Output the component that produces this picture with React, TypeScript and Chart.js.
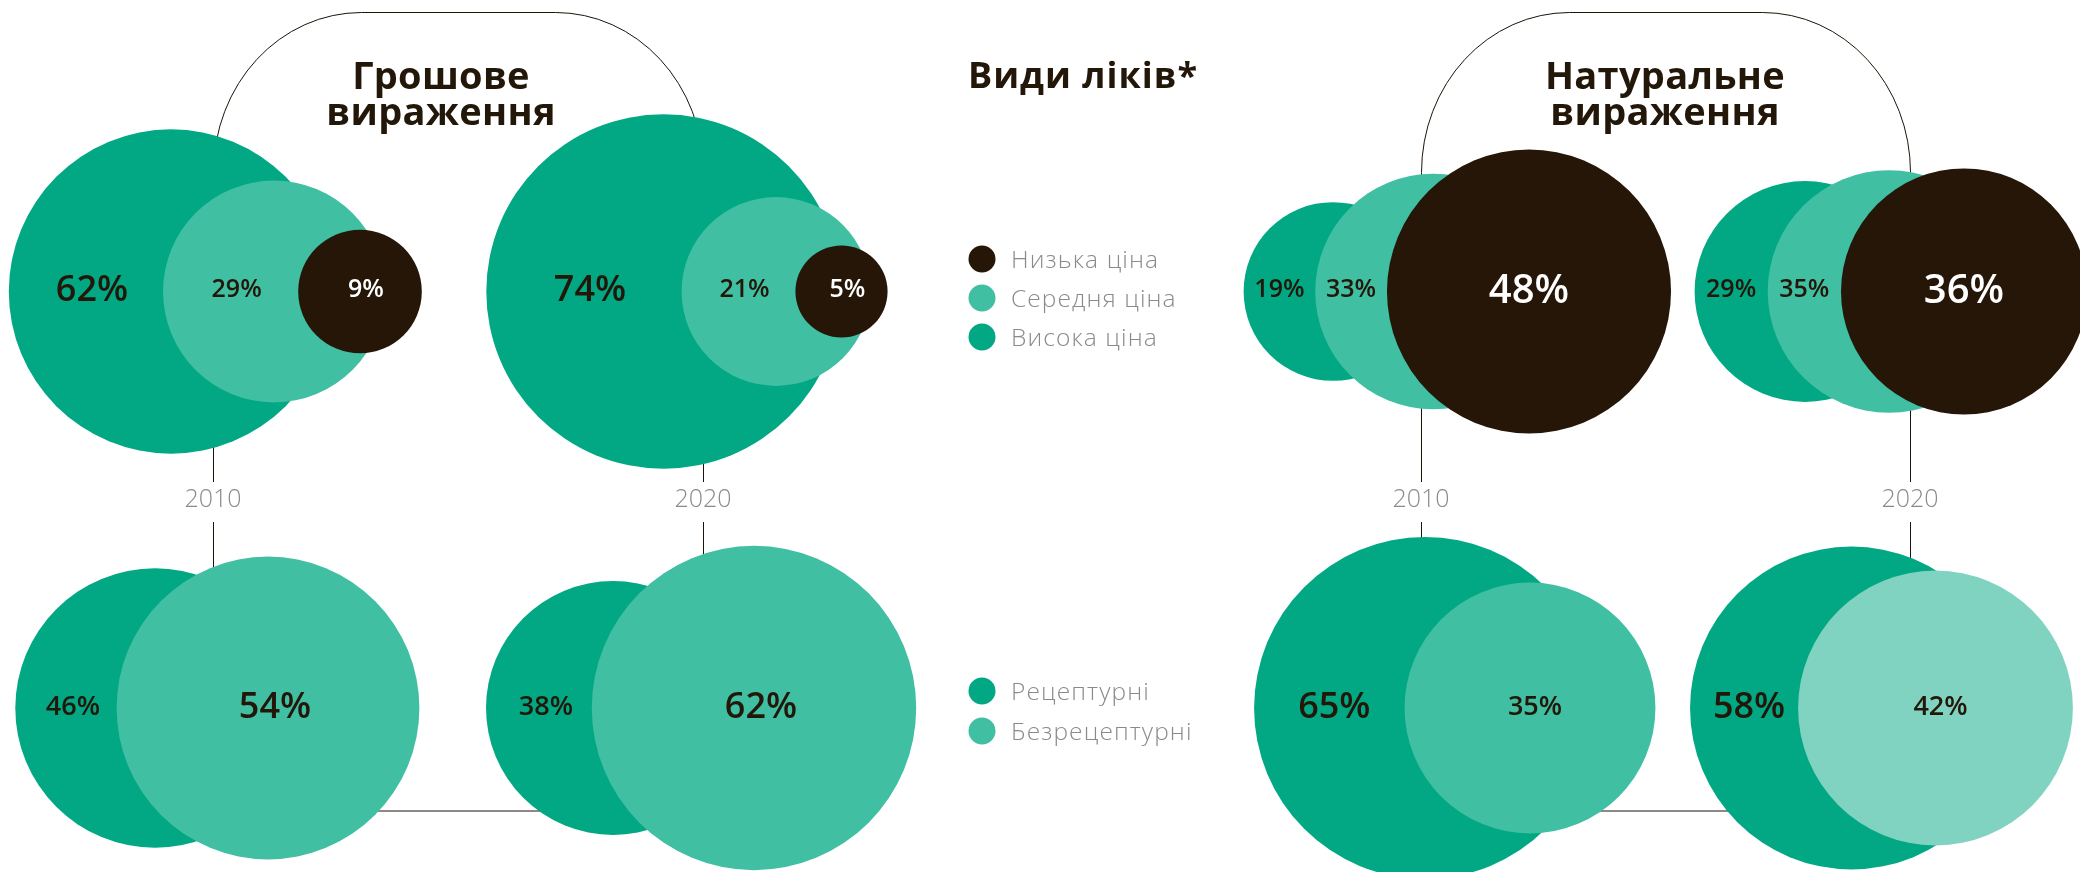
import React, { useEffect, useRef } from "react";
import { Chart, registerables } from "chart.js";

Chart.register(...registerables);

// ---------------- DATA ----------------
const YEARS = ["2010", "2020"];
const PANEL_TITLES = [["Грошове", "вираження"], ["Натуральне", "вираження"]];
const PRICE_TITLE = "Види ліків*";
const PRICE_SERIES = ["Висока ціна", "Середня ціна", "Низька ціна"];
const RX_SERIES = ["Рецептурні", "Безрецептурні"];

// Грошове вираження (value terms), % per year [2010, 2020]
const VALUE_HIGH = [62, 74];
const VALUE_MID = [29, 21];
const VALUE_LOW = [9, 5];
const VALUE_RX = [46, 38];
const VALUE_OTC = [54, 62];

// Натуральне вираження (volume terms), % per year [2010, 2020]
const VOLUME_HIGH = [19, 29];
const VOLUME_MID = [33, 35];
const VOLUME_LOW = [48, 36];
const VOLUME_RX = [65, 58];
const VOLUME_OTC = [35, 42];

// ---------------- STYLE / LAYOUT ----------------
const W = 2080;
const H = 872;
const GREEN = "#02A884";
const TEAL = "#40BFA3";
const MINT = "#80D3C1";
const DARK = "#251607";
const TEXT_DARK = "#231709";
const GREY = "#8a8a8a";
const FONT = '"Open Sans", "Noto Sans", sans-serif';

const PRICE_COLORS = [GREEN, TEAL, DARK];
const RX_COLORS = [GREEN, TEAL];

const ROW_Y = [291.5, 708];
const ANCHOR_X = [
  [213, 703],
  [1421, 1910],
];
// radius = scale * sqrt(percent), per [row][panel]
const RADIUS_SCALE = [
  [20.6, 20.5],
  [20.6, 21.2],
];
// horizontal nudge of the percentage labels, per [row][panel]
const LABEL_SHIFT = [
  [6, 0],
  [7, 5],
];
// centre offsets from the year's anchor line [panel][year][series]
const PRICE_OFFSETS = [
  [[-42, 61, 147], [-39.5, 73, 138.5]],
  [[-88, 12, 108], [-105, -21, 54]],
];
const RX_OFFSETS = [
  [[-58, 55], [-90, 51]],
  [[4, 109], [-58.5, 25.5]],
];
const TITLE_CX = [441, 1665];

const PRICE_DATA = [
  [VALUE_HIGH, VALUE_MID, VALUE_LOW],
  [VOLUME_HIGH, VOLUME_MID, VOLUME_LOW],
];
const RX_DATA = [
  [VALUE_RX, VALUE_OTC],
  [VOLUME_RX, VOLUME_OTC],
];

type Pt = { x: number; y: number; v: number; row: number; panel: number };

function buildPoints(
  data: number[][][],
  offsets: number[][][],
  series: number,
  row: number
): Pt[] {
  const pts: Pt[] = [];
  for (let panel = 0; panel < 2; panel++) {
    for (let yr = 0; yr < YEARS.length; yr++) {
      pts.push({
        x: ANCHOR_X[panel][yr] + offsets[panel][yr][series],
        y: ROW_Y[row],
        v: data[panel][series][yr],
        row,
        panel,
      });
    }
  }
  return pts;
}

const radiusOf = (ctx: any) => {
  const raw = ctx.raw as Pt | undefined;
  if (!raw) return 0;
  return RADIUS_SCALE[raw.row][raw.panel] * Math.sqrt(raw.v);
};

// groups of circles (dataset index, point index) drawn left -> right
const GROUPS: { members: [number, number][]; row: number }[] = [];
for (let p = 0; p < 4; p++) {
  GROUPS.push({ members: [[0, p], [1, p], [2, p]], row: 0 });
  GROUPS.push({ members: [[3, p], [4, p]], row: 1 });
}

function setSpacing(ctx: CanvasRenderingContext2D, px: number) {
  (ctx as any).letterSpacing = `${px}px`;
}

const backgroundPlugin = {
  id: "connectors",
  beforeDatasetsDraw(chart: any) {
    const ctx = chart.ctx as CanvasRenderingContext2D;
    ctx.save();
    ctx.strokeStyle = "#1d1208";
    ctx.lineWidth = 1;
    const top = 12.5;
    const rx = 148;
    const ry = 160;
    ANCHOR_X.forEach((anch) => {
      const aL = anch[0] + 0.5;
      const aR = anch[1] + 0.5;
      // arch
      ctx.beginPath();
      ctx.moveTo(aL, 482);
      ctx.lineTo(aL, top + ry);
      ctx.ellipse(aL + rx, top + ry, rx, ry, 0, Math.PI, Math.PI * 1.5);
      ctx.lineTo(aR - rx, top);
      ctx.ellipse(aR - rx, top + ry, rx, ry, 0, Math.PI * 1.5, Math.PI * 2);
      ctx.lineTo(aR, 482);
      ctx.stroke();
      // lower connector
      ctx.beginPath();
      ctx.moveTo(aL, 522);
      ctx.lineTo(aL, 811);
      ctx.lineTo(aR, 811);
      ctx.lineTo(aR, 522);
      ctx.stroke();
    });
    // year labels
    ctx.fillStyle = GREY;
    ctx.font = `300 25px ${FONT}`;
    ctx.textAlign = "center";
    ctx.textBaseline = "alphabetic";
    ANCHOR_X.forEach((anch) => {
      anch.forEach((ax, i) => ctx.fillText(YEARS[i], ax, 507));
    });
    // panel titles
    ctx.fillStyle = TEXT_DARK;
    ctx.font = `700 38px ${FONT}`;
    setSpacing(ctx, 0.3);
    PANEL_TITLES.forEach((lines, i) => {
      lines.forEach((t, j) => ctx.fillText(t, TITLE_CX[i], 89 + j * 36));
    });
    // legend title
    ctx.textAlign = "left";
    ctx.font = `700 36px ${FONT}`;
    setSpacing(ctx, 1);
    ctx.fillText(PRICE_TITLE, 968, 88);
    // legends
    const ds = chart.data.datasets;
    const legendRows: { label: string; color: string; y: number }[] = [];
    [2, 1, 0].forEach((d, k) =>
      legendRows.push({ label: ds[d].label, color: PRICE_COLORS[d], y: 259 + k * 39 })
    );
    [3, 4].forEach((d, k) =>
      legendRows.push({ label: ds[d].label, color: RX_COLORS[k], y: 691 + k * 40 })
    );
    ctx.font = `300 24.5px ${FONT}`;
    setSpacing(ctx, 1.1);
    legendRows.forEach((r) => {
      ctx.fillStyle = r.color;
      ctx.beginPath();
      ctx.arc(982, r.y, 13.5, 0, Math.PI * 2);
      ctx.fill();
      ctx.fillStyle = GREY;
      ctx.fillText(r.label, 1011, r.y + 8.5);
    });
    ctx.restore();
  },
};

const labelPlugin = {
  id: "circleLabels",
  afterDatasetsDraw(chart: any) {
    const ctx = chart.ctx as CanvasRenderingContext2D;
    ctx.save();
    ctx.textAlign = "center";
    ctx.textBaseline = "alphabetic";
    GROUPS.forEach((g) => {
      const els = g.members.map(([d, i]) => {
        const el = chart.getDatasetMeta(d).data[i];
        const raw = chart.data.datasets[d].data[i] as Pt;
        return {
          x: el.x as number,
          y: el.y as number,
          r: el.options.radius as number,
          v: raw.v,
          panel: raw.panel,
          dark: d === 2,
        };
      });
      const maxV = Math.max(...els.map((e) => e.v));
      els.forEach((e, k) => {
        const next = els[k + 1];
        const x =
          (next ? (e.x - e.r + (next.x - next.r)) / 2 : e.x) + LABEL_SHIFT[g.row][e.panel];
        const big = e.v === maxV;
        let size = big ? 36 : g.row === 0 ? 25 : 27;
        if (big && e.dark) size = 40;
        ctx.font = `600 ${size}px ${FONT}`;
        ctx.fillStyle = e.dark ? "#ffffff" : TEXT_DARK;
        ctx.fillText(`${e.v}%`, x, e.y + size * 0.357 - 3);
      });
    });
    ctx.restore();
  },
};

export default function App() {
  const ref = useRef<HTMLCanvasElement | null>(null);

  useEffect(() => {
    if (!ref.current) return;
    const datasets: any[] = [];
    PRICE_SERIES.forEach((label, s) => {
      datasets.push({
        label,
        data: buildPoints(PRICE_DATA, PRICE_OFFSETS, s, 0),
        backgroundColor: PRICE_COLORS[s],
        borderWidth: 0,
        radius: radiusOf,
        clip: false,
        order: 10 - s,
      });
    });
    RX_SERIES.forEach((label, s) => {
      datasets.push({
        label,
        data: buildPoints(RX_DATA, RX_OFFSETS, s, 1),
        backgroundColor: (ctx: any) =>
          s === 1 && ctx.dataIndex === 3 ? MINT : RX_COLORS[s],
        borderWidth: 0,
        radius: radiusOf,
        clip: false,
        order: 5 - s,
      });
    });

    const chart = new Chart(ref.current, {
      type: "bubble",
      data: { datasets },
      options: {
        responsive: false,
        animation: false,
        events: [],
        layout: { padding: 0, autoPadding: false },
        scales: {
          x: { type: "linear", min: 0, max: W, display: false },
          y: { type: "linear", min: 0, max: H, reverse: true, display: false },
        },
        plugins: {
          legend: { display: false },
          tooltip: { enabled: false },
        },
      },
      plugins: [backgroundPlugin, labelPlugin],
    });
    return () => chart.destroy();
  }, []);

  return (
    <div
      style={{
        position: "fixed",
        left: 0,
        top: 0,
        width: W,
        height: H,
        background: "#ffffff",
        overflow: "hidden",
      }}
    >
      <canvas ref={ref} width={W} height={H} style={{ display: "block", width: W, height: H }} />
    </div>
  );
}
